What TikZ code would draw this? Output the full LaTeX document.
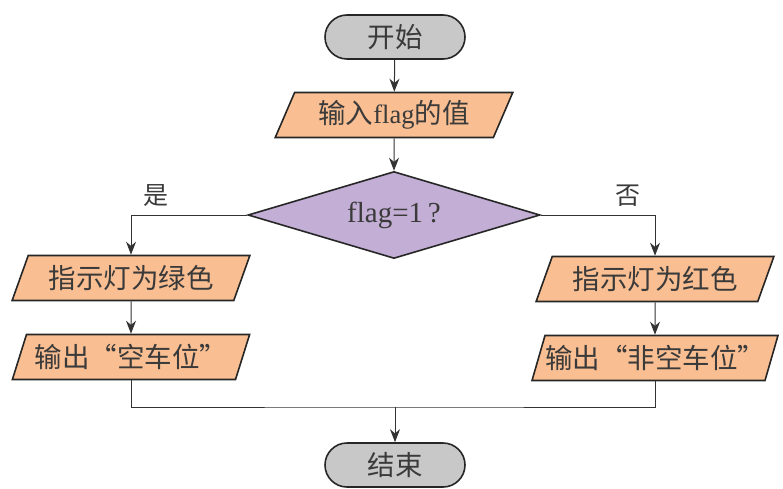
\documentclass[tikz,border=0pt]{standalone}
\usepackage{fontspec}
\setmainfont{Liberation Serif}
\newfontfamily\cjk{Noto Sans CJK SC}
\usetikzlibrary{arrows.meta,shapes.geometric}
\definecolor{termgray}{HTML}{C8C8C8}
\definecolor{ioorange}{HTML}{F9BE91}
\definecolor{decpurple}{HTML}{C3AED6}
\definecolor{inkgray}{HTML}{3A3A3A}

\begin{document}
\begin{tikzpicture}[x=1pt,y=1pt,>={Stealth[length=13pt,width=10pt]},
  term/.style={draw=black!85,line width=1.6pt,fill=termgray,rounded corners=22pt,minimum width=140pt,minimum height=44pt,inner sep=0pt,text=inkgray,font=\cjk\fontsize{27.5}{30}\selectfont},
  io/.style={trapezium,trapezium left angle=63,trapezium right angle=117,trapezium stretches=true,draw=black!85,line width=1.6pt,fill=ioorange,minimum width=238pt,minimum height=45pt,inner sep=0pt,text=inkgray,font=\cjk\fontsize{27.5}{30}\selectfont},
  dec/.style={diamond,aspect=3.36,draw=black!85,line width=1.6pt,fill=decpurple,minimum width=292pt,minimum height=87pt,inner sep=0pt,text=inkgray,font=\fontsize{29}{32}\selectfont},
  lbl/.style={text=inkgray,font=\cjk\fontsize{25}{28}\selectfont},
  link/.style={draw=black!80,line width=1pt}]
\useasboundingbox (0,0) rectangle (783,-489);
\node[term] (start) at (395,-37) {开始};
\node[io] (input) at (394,-115) {输入{\rmfamily\fontsize{26.5}{30}\selectfont flag}的值};
\node[dec] (test) at (394,-215) {flag=1\,?};
\node[io] (green) at (131,-278) {指示灯为绿色};
\node[io] (free) at (131,-357) {输出“空车位”};
\node[io] (red) at (655,-279) {指示灯为红色};
\node[io] (busy) at (655,-358) {输出“非空车位”};
\node[term] (stop) at (395,-465) {结束};
\node[lbl] (yes) at (156,-196) {是};
\node[lbl] (no) at (628,-196) {否};
\coordinate (join) at (395,-407);
% main line
\draw[link,->] (start) -- (input);
\draw[link,->] (input) -- (test);
% branches
\draw[link,->] (test.west) -| (green.north);
\draw[link,->] (test.east) -| (red.north);
\draw[link,->] (green) -- (free);
\draw[link,->] (red) -- (busy);
\draw[link] (free.south) |- (join) -| (busy.south);
\draw[link,->] (join) -- (stop);
\end{tikzpicture}
\end{document}
